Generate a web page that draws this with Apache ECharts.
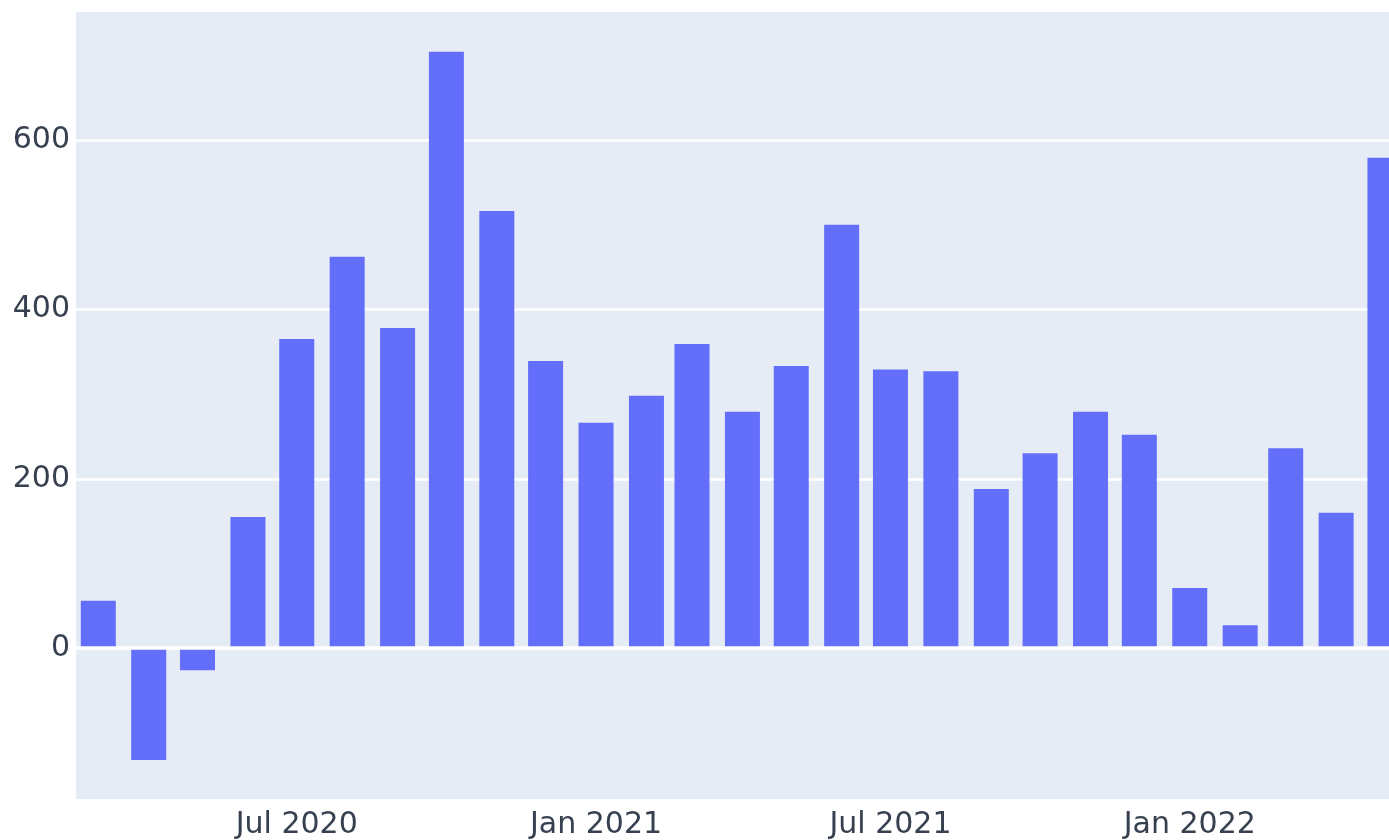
<!DOCTYPE html>
<html><head><meta charset="utf-8">
<script src="https://cdn.jsdelivr.net/npm/echarts@6/dist/echarts.min.js"></script>
<style>html,body{margin:0;padding:0;background:#fff}#c{width:1389px;height:840px}</style>
</head><body><div id="c"></div>
<script>
const months = ['2020-03','2020-04','2020-05','2020-06','2020-07','2020-08','2020-09','2020-10','2020-11','2020-12',
  '2021-01','2021-02','2021-03','2021-04','2021-05','2021-06','2021-07','2021-08','2021-09','2021-10','2021-11','2021-12',
  '2022-01','2022-02','2022-03','2022-04','2022-05'];
const values = [56,-132,-26,155,365,462,378,704,516,339,
  266,298,359,279,333,500,329,327,188,230,279,252,
  71,27,236,160,579];
const tickMonths = ['2020-07','2021-01','2021-07','2022-01'];
const tickLabels = ['Jul 2020','Jan 2021','Jul 2021','Jan 2022'];
const yTicks = [0,200,400,600];

function ts(m, d, h) {
  const p = m.split('-');
  return Date.UTC(+p[0], +p[1] - 1, d || 1, h || 0);
}
const tickValues = tickMonths.map(m => ts(m));
const data = months.map((m, i) => [ts(m), values[i]]);

const chart = echarts.init(document.getElementById('c'));
const font = 'DejaVu Sans';
const txt = '#36404f';
chart.setOption({
  animation: false,
  backgroundColor: '#ffffff',
  grid: { left: 76, right: 0, top: 12, bottom: 40, show: true, backgroundColor: '#e5ecf6', borderWidth: 0 },
  xAxis: {
    type: 'value',
    min: ts('2020-02', 16, 7),
    max: ts('2022-05', 3, 12),
    axisLine: { show: false },
    axisTick: { show: false, customValues: tickValues },
    splitLine: { show: false },
    axisLabel: {
      customValues: tickValues,
      fontFamily: font, fontSize: 30, color: txt, margin: 11,
      formatter: v => { const i = tickValues.indexOf(+v); return i >= 0 ? tickLabels[i] : ''; }
    }
  },
  yAxis: {
    type: 'value',
    min: -178, max: 751,
    axisLine: { show: false },
    axisTick: { show: false, customValues: yTicks },
    splitLine: { show: true, lineStyle: { color: '#ffffff', width: 2.5 } },
    axisLabel: { customValues: yTicks, fontFamily: font, fontSize: 30, color: txt, margin: 6 }
  },
  series: [{
    type: 'bar',
    data: data,
    barWidth: 35,
    itemStyle: { color: '#636efa' },
    markLine: {
      silent: true, symbol: 'none', label: { show: false },
      lineStyle: { color: '#ffffff', width: 3.5, type: 'solid' },
      data: [{ yAxis: 0 }]
    }
  }]
});
</script></body></html>
